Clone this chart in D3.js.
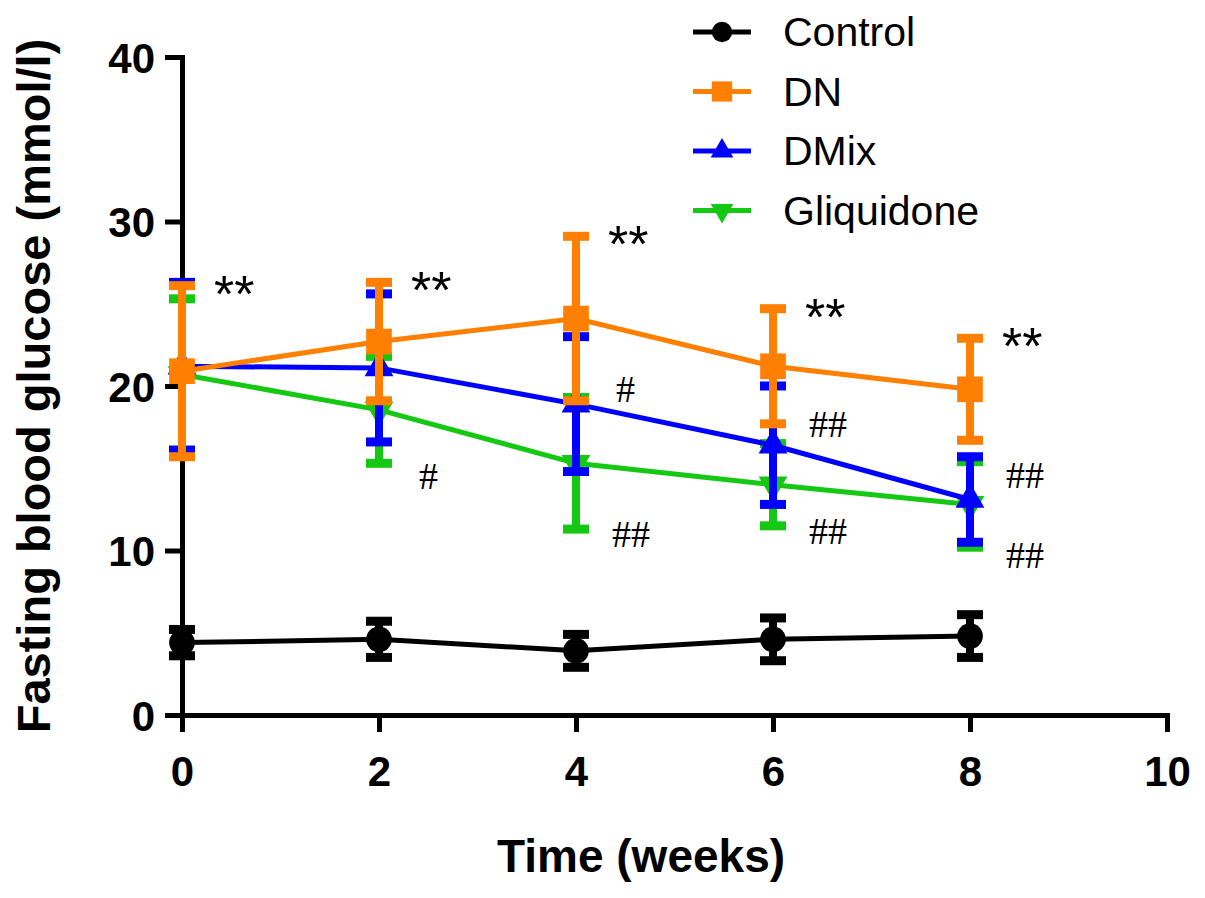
<!DOCTYPE html>
<html>
<head>
<meta charset="utf-8">
<script src="https://cdn.jsdelivr.net/npm/d3@7"></script>
<style>
  body { margin: 0; background: #fff; }
  svg { display: block; }
</style>
</head>
<body>
<div id="chart"></div>
<script>
// data
const weeks = [0, 2, 4, 6, 8];
const seriesNames = ["Control", "DN", "DMix", "Gliquidone"];
const controlMean = [4.4, 4.6, 3.9, 4.6, 4.8];
const controlSd = [0.8, 1.1, 1.0, 1.3, 1.3];
const dnMean = [20.9, 22.7, 24.1, 21.2, 19.8];
const dnSd = [5.2, 3.6, 5.0, 3.5, 3.1];
const dmixMean = [21.2, 21.1, 18.9, 16.4, 13.1];
const dmixSd = [5.1, 4.5, 4.1, 3.6, 2.6];
const gliMean = [20.7, 18.55, 15.3, 14.0, 12.8];
const gliSd = [4.6, 3.25, 4.0, 2.5, 2.6];
const xTicks = [0, 2, 4, 6, 8, 10];
const yTicks = [0, 10, 20, 30, 40];
// significance labels (** vs control sit on the DN upper bar)
const starLabel = "**";
const hashWeeks = [2, 4, 4, 6, 6, 8, 8];
const hashValues = [14.5, 19.8, 11.0, 17.7, 11.2, 14.6, 9.7];
const hashLabels = ["#", "#", "##", "##", "##", "##", "##"];

const W = 1205, H = 898;
const svg = d3.select("#chart").append("svg")
  .attr("width", W)
  .attr("height", H);

const x = d3.scaleLinear().domain([0, 10]).range([182, 1167]);
const y = d3.scaleLinear().domain([0, 40]).range([715, 57]);

const colors = { "Control": "#000000", "DN": "#ff8000", "DMix": "#0000ff", "Gliquidone": "#14c814" };
const shapes = {
  "Control": { type: d3.symbolCircle, size: 520, rot: 0 },
  "DN": { type: d3.symbolSquare, size: 660, rot: 0 },
  "DMix": { type: d3.symbolTriangle, size: 360, rot: 0 },
  "Gliquidone": { type: d3.symbolTriangle, size: 360, rot: 180 }
};
const means = { "Control": controlMean, "DN": dnMean, "DMix": dmixMean, "Gliquidone": gliMean };
const sds = { "Control": controlSd, "DN": dnSd, "DMix": dmixSd, "Gliquidone": gliSd };

// axes
const yAxis = svg.append("g")
  .attr("transform", `translate(${x(0)},0)`)
  .call(d3.axisLeft(y).tickValues(yTicks).tickSize(17).tickSizeOuter(0).tickPadding(10));
const xAxis = svg.append("g")
  .attr("transform", `translate(0,${y(0)})`)
  .call(d3.axisBottom(x).tickValues(xTicks).tickSize(17).tickSizeOuter(0).tickPadding(24));

[xAxis, yAxis].forEach(ax => {
  ax.select(".domain").attr("stroke", "#000").attr("stroke-width", 5).attr("stroke-linecap", "square");
  ax.selectAll(".tick line").attr("stroke", "#000").attr("stroke-width", 5);
  ax.selectAll(".tick text")
    .attr("fill", "#000")
    .style("font-family", "'Liberation Sans', Arial, sans-serif")
    .style("font-weight", "bold")
    .style("font-size", "42px");
});
yAxis.selectAll(".tick text").attr("dy", "0.36em");

// axis titles
svg.append("text")
  .attr("x", 641)
  .attr("y", 872)
  .attr("text-anchor", "middle")
  .style("font-family", "'Liberation Sans', Arial, sans-serif")
  .style("font-weight", "bold")
  .style("font-size", "46px")
  .text("Time (weeks)");

svg.append("text")
  .attr("transform", "translate(50,386) rotate(-90)")
  .attr("text-anchor", "middle")
  .style("font-family", "'Liberation Sans', Arial, sans-serif")
  .style("font-weight", "bold")
  .style("font-size", "47px")
  .text("Fasting blood glucose (mmol/l)");

// series, back to front: Gliquidone, DMix, DN, Control
const line = d3.line().x(d => x(d.w)).y(d => y(d.m));
seriesNames.slice().reverse().forEach(name => {
  const pts = weeks.map((w, i) => ({ w: w, m: means[name][i], s: sds[name][i] }));
  const g = svg.append("g");
  const c = colors[name];

  g.append("path")
    .datum(pts)
    .attr("d", line)
    .style("fill", "none")
    .style("stroke", c)
    .style("stroke-width", 5);

  // error bars
  g.selectAll(".stem").data(pts).enter().append("line")
    .attr("x1", d => x(d.w)).attr("x2", d => x(d.w))
    .attr("y1", d => y(d.m + d.s)).attr("y2", d => y(d.m - d.s))
    .style("stroke", c).style("stroke-width", 8);
  [1, -1].forEach(sign => {
    g.selectAll(null).data(pts).enter().append("line")
      .attr("x1", d => x(d.w) - 13).attr("x2", d => x(d.w) + 13)
      .attr("y1", d => y(d.m + sign * d.s)).attr("y2", d => y(d.m + sign * d.s))
      .style("stroke", c).style("stroke-width", 9);
  });

  const sh = shapes[name];
  g.selectAll(".mark").data(pts).enter().append("path")
    .attr("d", d3.symbol().type(sh.type).size(sh.size))
    .attr("transform", d => `translate(${x(d.w)},${y(d.m)}) rotate(${sh.rot})`)
    .style("fill", c);
});

// significance marks
svg.selectAll(".star").data(weeks).enter().append("text")
  .attr("x", (d, i) => x(d) + 32)
  .attr("y", (d, i) => y(dnMean[i] + dnSd[i]))
  .attr("dy", "0.5em")
  .style("font-family", "'Liberation Sans', Arial, sans-serif")
  .style("font-size", "52px")
  .text(starLabel);

svg.selectAll(".hash").data(hashWeeks).enter().append("text")
  .attr("x", (d, i) => x(d) + (hashLabels[i] === "#" ? 40 : 36))
  .attr("y", (d, i) => y(hashValues[i]))
  .attr("dy", "0.34em")
  .style("font-family", "'Liberation Serif', 'Times New Roman', serif")
  .style("font-size", "38px")
  .text((d, i) => hashLabels[i]);

// legend
const legend = svg.append("g");
seriesNames.forEach((name, i) => {
  const ly = 32 + i * 59.5;
  const c = colors[name];
  legend.append("line")
    .attr("x1", 693).attr("x2", 751)
    .attr("y1", ly).attr("y2", ly)
    .style("stroke", c).style("stroke-width", 5);
  const sh = shapes[name];
  legend.append("path")
    .attr("d", d3.symbol().type(sh.type).size(sh.size * 0.62))
    .attr("transform", `translate(722,${ly}) rotate(${sh.rot})`)
    .style("fill", c);
  legend.append("text")
    .attr("x", 783)
    .attr("y", ly + 14)
    .style("font-family", "'Liberation Sans', Arial, sans-serif")
    .style("font-size", "41px")
    .text(name);
});
</script>
</body>
</html>
